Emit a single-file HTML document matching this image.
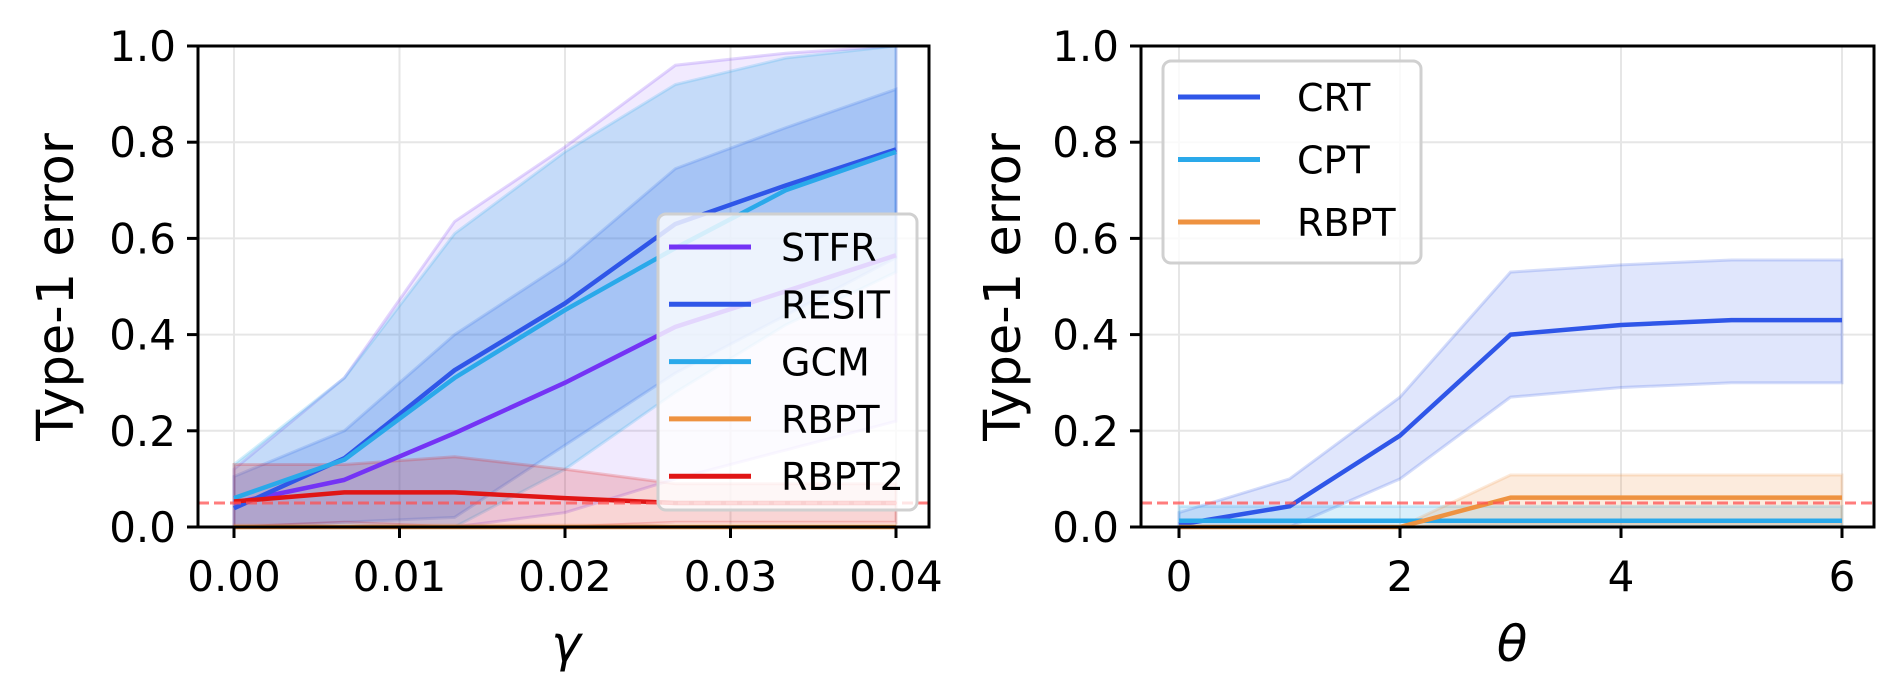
<!DOCTYPE html>
<html><head><meta charset="utf-8"><style>
html,body{margin:0;padding:0;background:#fff;}
svg{display:block;font-family:"DejaVu Sans","Liberation Sans",sans-serif;}
</style></head><body>
<svg id="chart" width="1904" height="700" viewBox="0 0 1904 700" xmlns="http://www.w3.org/2000/svg">
<g id="left"></g>
<g id="right"></g>
</svg>
<script>
// ---- Left panel data ----
const gammaVals = [0, 0.00667, 0.01333, 0.02, 0.02667, 0.03333, 0.04];
const gammaTicks = [0, 0.01, 0.02, 0.03, 0.04];
const gammaTickLabels = ["0.00", "0.01", "0.02", "0.03", "0.04"];
const stfrMean = [0.05, 0.098, 0.195, 0.30, 0.416, 0.49, 0.565];
const stfrUpper = [0.12, 0.31, 0.635, 0.79, 0.96, 0.985, 1.0];
const stfrLower = [0, 0, 0, 0.03, 0.10, 0.16, 0.22];
const resitMean = [0.039, 0.143, 0.326, 0.465, 0.63, 0.71, 0.785];
const resitUpper = [0.105, 0.20, 0.40, 0.55, 0.745, 0.83, 0.91];
const resitLower = [0, 0.01, 0.02, 0.17, 0.32, 0.44, 0.56];
const gcmMean = [0.06, 0.14, 0.31, 0.451, 0.58, 0.70, 0.78];
const gcmUpper = [0.13, 0.31, 0.61, 0.78, 0.92, 0.975, 1.0];
const gcmLower = [0, 0, 0, 0.12, 0.28, 0.42, 0.53];
const rbptLMean = [0, 0, 0, 0, 0, 0, 0];
const rbptLUpper = [0.004, 0.004, 0.004, 0.004, 0.004, 0.004, 0.004];
const rbptLLower = [0, 0, 0, 0, 0, 0, 0];
const rbpt2Mean = [0.053, 0.072, 0.072, 0.06, 0.05, 0.05, 0.05];
const rbpt2Upper = [0.13, 0.13, 0.146, 0.12, 0.09, 0.09, 0.09];
const rbpt2Lower = [0, 0.01, 0, 0, 0.01, 0.01, 0.01];
// ---- Right panel data ----
const thetaVals = [0, 1, 2, 3, 4, 5, 6];
const thetaTicks = [0, 2, 4, 6];
const thetaTickLabels = ["0", "2", "4", "6"];
const crtMean = [0.005, 0.043, 0.19, 0.40, 0.42, 0.43, 0.43];
const crtUpper = [0.03, 0.10, 0.27, 0.53, 0.545, 0.555, 0.555];
const crtLower = [0, 0, 0.10, 0.27, 0.29, 0.30, 0.30];
const cptMean = [0.013, 0.013, 0.013, 0.013, 0.013, 0.013, 0.013];
const cptUpper = [0.043, 0.043, 0.043, 0.043, 0.043, 0.043, 0.043];
const cptLower = [0, 0, 0, 0, 0, 0, 0];
const rbptRMean = [0, 0, 0, 0.061, 0.061, 0.061, 0.061];
const rbptRUpper = [0, 0, 0, 0.108, 0.108, 0.108, 0.108];
const rbptRLower = [0, 0, 0, 0.005, 0.005, 0.005, 0.005];
const yTicks = [0, 0.2, 0.4, 0.6, 0.8, 1.0];
const yTickLabels = ["0.0", "0.2", "0.4", "0.6", "0.8", "1.0"];
const alphaLevel = 0.05;

const NS = "http://www.w3.org/2000/svg";
function mk(parent, tag, attrs, text) {
  const e = document.createElementNS(NS, tag);
  for (const k in attrs) e.setAttribute(k, attrs[k]);
  if (text !== undefined) e.textContent = text;
  parent.appendChild(e);
  return e;
}
const Y0 = 527, Y1 = 46;
function yS(v) { return Y0 - v * (Y0 - Y1); }

function panel(g, cfg) {
  const xS = cfg.xS;
  cfg.xTicks.forEach(t => {
    const l = mk(g, "line", {x1: xS(t), x2: xS(t), y1: Y1, y2: Y0, stroke: "#e6e6e6", "stroke-width": 2});
    
    
  });
  yTicks.forEach(t => {
    const l = mk(g, "line", {x1: cfg.L, x2: cfg.R, y1: yS(t), y2: yS(t), stroke: "#e6e6e6", "stroke-width": 2});
    
    
  });
  cfg.series.forEach(s => {
    let d = "";
    s.x.forEach((xv, i) => { d += (i ? "L" : "M") + xS(xv) + "," + yS(s.up[i]); });
    for (let i = s.x.length - 1; i >= 0; i--) d += "L" + xS(s.x[i]) + "," + yS(s.lo[i]);
    d += "Z";
    const p = mk(g, "path", {d: d, fill: s.color, "fill-opacity": s.fa, stroke: s.color, "stroke-opacity": 0.2, "stroke-width": 3});
    
    
  });
  cfg.series.forEach(s => {
    const pts = s.x.map((xv, i) => xS(xv) + "," + yS(s.mean[i])).join(" ");
    const p = mk(g, "polyline", {points: pts, fill: "none", stroke: s.color, "stroke-width": 4.5, "stroke-linejoin": "round"});
    
    
  });
  const al = mk(g, "line", {x1: cfg.L, x2: cfg.R, y1: yS(alphaLevel), y2: yS(alphaLevel), stroke: "#ff5050", "stroke-opacity": 0.75, "stroke-width": 3, "stroke-dasharray": "11,5"});
  
  
  const fr = mk(g, "rect", {x: cfg.L, y: Y1, width: cfg.R - cfg.L, height: Y0 - Y1, fill: "none", stroke: "#000", "stroke-width": 3});
  
  
  cfg.xTicks.forEach((t, i) => {
    const tl = mk(g, "line", {x1: xS(t), x2: xS(t), y1: Y0, y2: Y0 + 11, stroke: "#000", "stroke-width": 3});
    
    
    const tx = mk(g, "text", {x: xS(t), y: 591, "font-size": 42, "text-anchor": "middle"}, cfg.xLabels[i]);
    
    
  });
  yTicks.forEach((t, i) => {
    const tl = mk(g, "line", {x1: cfg.L - 11, x2: cfg.L, y1: yS(t), y2: yS(t), stroke: "#000", "stroke-width": 3});
    
    
    const tx = mk(g, "text", {x: cfg.L - 22, y: yS(t) + 15, "font-size": 42, "text-anchor": "end"}, yTickLabels[i]);
    
    
  });
  const yt = mk(g, "text", {x: 0, y: 0, "font-size": 51, "text-anchor": "middle", transform: "translate(" + cfg.yTitleX + ",287) rotate(-90)"}, "Type-1 error");
  
  
  const xt = mk(g, "text", {x: cfg.xTitleX, y: 661, "font-size": 50, "font-style": "italic", "text-anchor": "middle", "font-family": "DejaVu Sans, sans-serif"}, cfg.xTitle);
  
  
  const lg = mk(g, "g", {});
  
  
  const lb = mk(lg, "rect", {x: cfg.leg.x, y: cfg.leg.y, width: cfg.leg.w, height: cfg.leg.h, rx: 8, fill: "#fff", "fill-opacity": 0.8, stroke: "#d0d0d0", "stroke-width": 3});
  
  
  cfg.series.forEach((s, i) => {
    const cy = cfg.leg.y0 + i * cfg.leg.dy;
    const ll = mk(lg, "line", {x1: cfg.leg.hx, x2: cfg.leg.hx + 82, y1: cy, y2: cy, stroke: s.color, "stroke-width": 5});
    
    
    const lt = mk(lg, "text", {x: cfg.leg.tx, y: cy + 14, "font-size": 38}, s.name);
    
    
  });
}

panel(document.getElementById("left"), {
  L: 198, R: 929,
  xS: v => 234 + v * (896 - 234) / 0.04,
  xTicks: gammaTicks, xLabels: gammaTickLabels,
  yTitleX: 73, xTitleX: 566, xTitle: "γ",
  leg: {x: 658, y: 214, w: 259, h: 296, y0: 247, dy: 57.3, hx: 669, tx: 781},
  series: [
    {key: "stfr", name: "STFR", color: "#7433f5", fa: 0.1, x: gammaVals, mean: stfrMean, up: stfrUpper, lo: stfrLower},
    {key: "resit", name: "RESIT", color: "#2f56e8", fa: 0.2, x: gammaVals, mean: resitMean, up: resitUpper, lo: resitLower},
    {key: "gcm", name: "GCM", color: "#2aa9ea", fa: 0.22, x: gammaVals, mean: gcmMean, up: gcmUpper, lo: gcmLower},
    {key: "rbpt", name: "RBPT", color: "#ee9240", fa: 0.2, x: gammaVals, mean: rbptLMean, up: rbptLUpper, lo: rbptLLower},
    {key: "rbpt2", name: "RBPT2", color: "#e01515", fa: 0.18, x: gammaVals, mean: rbpt2Mean, up: rbpt2Upper, lo: rbpt2Lower}
  ]
});
panel(document.getElementById("right"), {
  L: 1141, R: 1874,
  xS: v => 1179 + v * (1842 - 1179) / 6,
  xTicks: thetaTicks, xLabels: thetaTickLabels,
  yTitleX: 1020, xTitleX: 1512, xTitle: "θ",
  leg: {x: 1163, y: 61, w: 258, h: 202, y0: 97, dy: 62.5, hx: 1178, tx: 1297},
  series: [
    {key: "crt", name: "CRT", color: "#2f56e8", fa: 0.15, x: thetaVals, mean: crtMean, up: crtUpper, lo: crtLower},
    {key: "cpt", name: "CPT", color: "#2aa9ea", fa: 0.18, x: thetaVals, mean: cptMean, up: cptUpper, lo: cptLower},
    {key: "rbpt", name: "RBPT", color: "#ee9240", fa: 0.18, x: thetaVals, mean: rbptRMean, up: rbptRUpper, lo: rbptRLower}
  ]
});
</script>
</body></html>
